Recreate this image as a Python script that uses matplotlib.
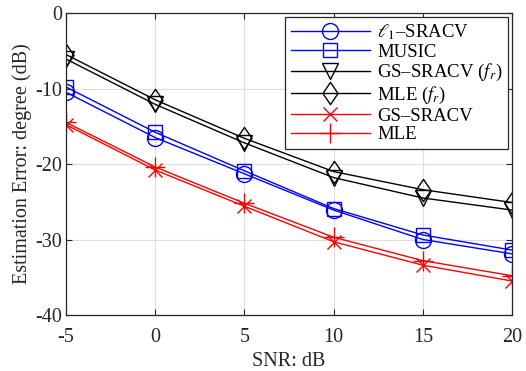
import matplotlib
matplotlib.use("Agg")
import matplotlib.pyplot as plt
from matplotlib.path import Path

plt.rcParams['font.family'] = ['Liberation Serif', 'DejaVu Serif']
plt.rcParams['mathtext.fontset'] = 'stix'
plt.rcParams['axes.unicode_minus'] = False

snr = [-5, 0, 5, 10, 15, 20]
l1_sracv = [-10.5, -16.5, -21.3, -26.1, -30.0, -31.9]
music = [-9.8, -15.8, -20.9, -25.9, -29.4, -31.4]
gs_sracv_fr = [-6.1, -12.1, -17.2, -21.8, -24.5, -26.1]
mle_fr = [-5.5, -11.5, -16.6, -21.0, -23.4, -25.1]
gs_sracv = [-14.8, -20.8, -25.6, -30.3, -33.4, -35.5]
mle = [-14.5, -20.4, -25.2, -29.7, -32.8, -34.8]

diamond = Path([(0, 1), (0.68, 0), (0, -1), (-0.68, 0), (0, 1)],
               [Path.MOVETO, Path.LINETO, Path.LINETO, Path.LINETO, Path.CLOSEPOLY])

fig = plt.figure(figsize=(5.26, 3.71), dpi=100)
ax = fig.add_axes([66/526, 1-315/371, (512-66)/526, (315-13)/371])

ax.plot(snr, l1_sracv, color='blue', marker='o', mfc='none', ms=11.5, lw=1, label=r'$\ell_1$–SRACV')
ax.plot(snr, music, color='blue', marker='s', mfc='none', ms=10, lw=1, label='MUSIC')
ax.plot(snr, gs_sracv_fr, color='black', marker='v', mfc='none', ms=12, lw=1, label=r'GS–SRACV ($f_r$)')
ax.plot(snr, mle_fr, color='black', marker=diamond, mfc='none', ms=16, lw=1, label=r'MLE ($f_r$)')
ax.plot(snr, gs_sracv, color='red', marker='x', ms=10.5, lw=1, label='GS–SRACV')
ax.plot(snr, mle, color='red', marker='+', ms=15, lw=1, label='MLE')

ax.set_xlim(-5, 20)
ax.set_ylim(-40, 0)
ax.set_xticks([-5, 0, 5, 10, 15, 20])
ax.set_yticks([-40, -30, -20, -10, 0])
ax.grid(True, color='#dddddd', lw=0.8)
ax.set_axisbelow(True)
ax.tick_params(direction='in', top=True, right=True, labelsize=14.5, length=4, width=0.8,
               colors='#262626', labelcolor='#262626')
ax.tick_params(axis='x', pad=9)
ax.tick_params(axis='y', pad=3)
for s in ax.spines.values():
    s.set_color('#262626')
    s.set_linewidth(0.9)
ax.set_xlabel('SNR: dB', fontsize=14.5, color='#262626', labelpad=4)
ax.set_ylabel('Estimation Error: degree (dB)', fontsize=14.5, color='#262626', labelpad=2)

leg = ax.legend(loc='upper right', fontsize=13.5, frameon=True, fancybox=False,
                edgecolor='#262626', framealpha=1, borderpad=0.3, labelspacing=0.08,
                handlelength=4.2, handletextpad=0.4, borderaxespad=0.2)
leg.get_frame().set_linewidth(0.9)

fig.savefig('out.png', dpi=100)
